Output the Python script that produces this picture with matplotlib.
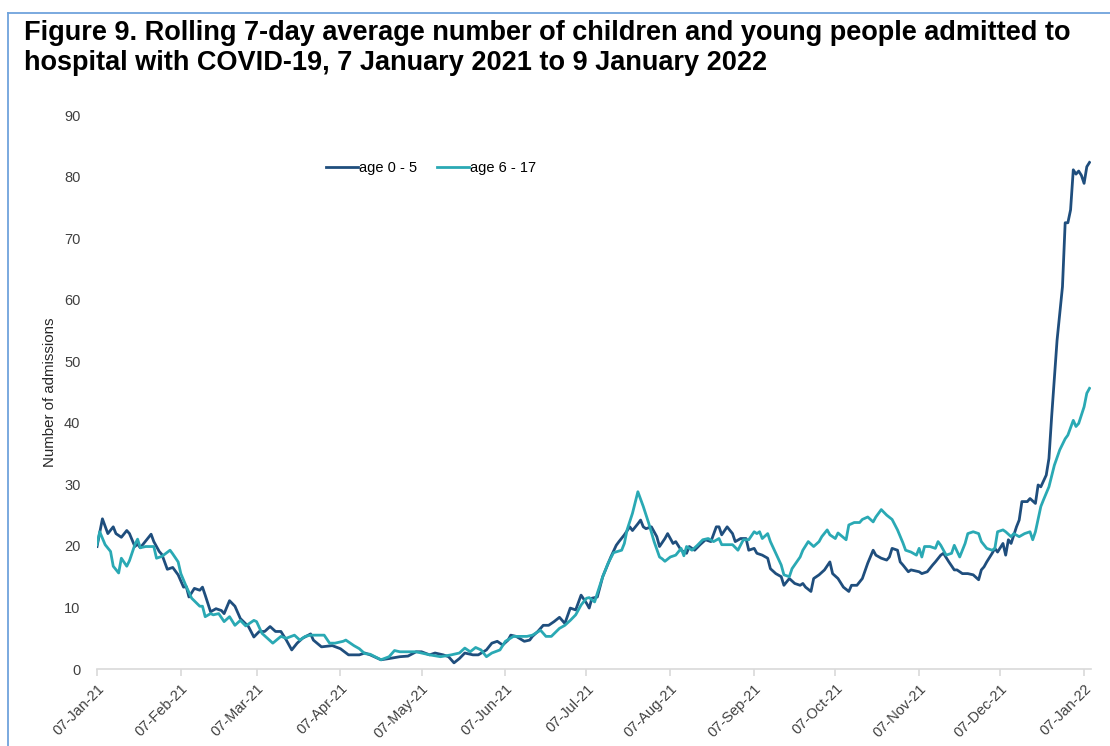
import numpy as np
import pandas as pd
import matplotlib
matplotlib.use("Agg")
import matplotlib.pyplot as plt
import matplotlib.dates as mdates
from matplotlib.lines import Line2D

plt.rcParams["font.family"] = ["Liberation Sans", "DejaVu Sans"]

start = pd.Timestamp("2021-01-07")

# days since 7 Jan 2021
days_05 = [0, 2, 4, 6, 7, 9, 11, 12, 14, 15, 16, 20, 21, 23, 24, 26, 28, 30, 32, 33,
           34, 36, 38, 39, 40, 42, 44, 46, 47, 49, 51, 53, 56, 58, 60, 62, 64, 66, 68, 70,
           72, 74, 76, 79, 80, 83, 87, 90, 93, 97, 99, 101, 105, 108, 112, 115, 118, 120, 123, 125,
           128, 130, 132, 134, 136, 139, 141, 144, 146, 148, 150, 152, 153, 155, 158, 160, 161, 163, 165, 167,
           169, 171, 173, 175, 177, 179, 181, 182, 183, 185, 187, 190, 192, 193, 195, 197, 198, 200, 201, 202,
           203, 205, 207, 208, 210, 211, 213, 214, 216, 218, 219, 221, 223, 225, 227, 229, 230, 231, 233, 235,
           236, 238, 240, 241, 243, 244, 246, 248, 249, 251, 253, 254, 256, 258, 260, 261, 262, 264, 265, 267,
           269, 271, 272, 274, 276, 278, 279, 281, 283, 285, 287, 288, 290, 292, 293, 294, 296, 297, 298, 300,
           301, 304, 305, 307, 309, 310, 312, 313, 315, 317, 318, 320, 322, 324, 326, 327, 328, 329, 331, 332,
           333, 335, 336, 337, 338, 340, 341, 342, 344, 345, 347, 348, 349, 351, 352, 353, 355, 357, 358, 359,
           360, 361, 362, 363, 364, 365, 366, 367]
age_05 = [19.9, 24.4, 22.0, 23.1, 22.0, 21.4, 22.5, 22.0, 19.9, 20.3, 19.7, 21.9, 20.7, 19.1, 18.6, 16.2, 16.5, 15.3, 13.3, 13.4,
          11.7, 13.1, 12.8, 13.3, 12.0, 9.3, 9.8, 9.5, 9.0, 11.1, 10.2, 8.2, 6.9, 5.2, 6.1, 6.1, 6.9, 6.1, 6.1, 4.7,
          3.1, 4.2, 5.0, 5.7, 4.7, 3.6, 3.8, 3.3, 2.3, 2.3, 2.6, 2.3, 1.5, 1.7, 2.0, 2.1, 2.8, 2.8, 2.3, 2.6,
          2.3, 2.0, 1.0, 1.7, 2.6, 2.3, 2.3, 3.1, 4.2, 4.5, 3.9, 4.7, 5.5, 5.3, 4.5, 4.7, 5.3, 6.1, 7.1, 7.1,
          7.7, 8.4, 7.4, 9.9, 9.6, 12.0, 10.7, 9.9, 11.5, 11.7, 15.0, 18.2, 20.1, 20.7, 21.8, 23.1, 22.5, 23.6, 24.2, 23.1,
          22.8, 23.1, 21.5, 19.9, 21.2, 22.0, 20.4, 20.7, 19.3, 18.8, 19.9, 19.3, 20.2, 21.0, 20.7, 23.1, 23.1, 21.8, 23.1, 22.0,
          20.7, 21.2, 21.2, 19.3, 19.6, 18.8, 18.5, 18.0, 16.3, 15.5, 15.0, 13.6, 14.7, 13.9, 13.6, 13.9, 13.3, 12.6, 14.7, 15.3,
          16.1, 17.4, 15.5, 14.7, 13.3, 12.6, 13.6, 13.6, 14.7, 17.2, 19.3, 18.5, 18.0, 17.7, 18.2, 19.6, 19.3, 17.4, 16.9, 15.8,
          16.1, 15.8, 15.5, 15.8, 16.9, 17.4, 18.5, 18.8, 17.4, 16.1, 16.1, 15.5, 15.5, 15.3, 14.5, 16.1, 16.6, 17.4, 18.8, 19.6,
          19.0, 20.4, 18.5, 21.0, 20.4, 23.1, 24.2, 27.2, 27.2, 27.7, 26.9, 29.9, 29.6, 31.5, 34.2, 41.0, 53.4, 62.1, 72.5, 72.5,
          74.6, 81.1, 80.4, 80.9, 80.2, 78.9, 81.6, 82.3]

days_617 = [0, 1, 3, 5, 6, 8, 9, 11, 12, 14, 15, 16, 18, 21, 22, 24, 27, 28, 30, 31,
            33, 35, 38, 39, 40, 42, 43, 45, 47, 49, 51, 53, 55, 58, 59, 61, 63, 65, 68, 70,
            73, 75, 77, 79, 82, 84, 86, 88, 91, 92, 95, 97, 99, 101, 105, 108, 110, 112, 116, 118,
            120, 123, 127, 131, 134, 136, 138, 140, 142, 144, 146, 149, 151, 154, 156, 159, 161, 164, 166, 168,
            171, 173, 175, 177, 179, 181, 182, 184, 185, 187, 189, 191, 194, 195, 196, 198, 200, 202, 204, 206,
            208, 209, 210, 212, 214, 216, 217, 218, 220, 222, 224, 226, 228, 230, 231, 234, 235, 237, 239, 241,
            243, 244, 245, 246, 248, 249, 251, 253, 254, 256, 257, 260, 261, 263, 265, 267, 268, 270, 271, 273,
            274, 277, 278, 280, 282, 283, 285, 287, 288, 290, 292, 294, 296, 298, 299, 301, 303, 304, 305, 306,
            308, 310, 311, 312, 314, 316, 317, 319, 321, 322, 324, 326, 327, 329, 331, 332, 333, 335, 336, 338,
            339, 341, 343, 345, 346, 347, 349, 350, 352, 354, 356, 358, 359, 361, 362, 363, 365, 366, 367]
age_617 = [20.2, 22.3, 20.2, 19.1, 16.7, 15.6, 18.0, 16.7, 17.6, 20.2, 21.1, 19.7, 19.9, 19.9, 18.0, 18.3, 19.3, 18.7, 17.4, 15.5,
           13.4, 11.5, 10.2, 10.2, 8.5, 9.0, 8.8, 9.0, 7.7, 8.5, 7.1, 7.9, 7.0, 7.9, 7.7, 5.8, 5.0, 4.2, 5.3, 5.0,
           5.5, 4.7, 5.3, 5.5, 5.5, 5.5, 4.2, 4.2, 4.5, 4.7, 3.8, 3.3, 2.5, 2.4, 1.5, 2.0, 3.0, 2.8, 2.8, 2.8,
           2.6, 2.3, 2.0, 2.3, 2.6, 3.4, 2.8, 3.5, 3.1, 2.0, 2.6, 3.1, 4.5, 5.3, 5.3, 5.3, 5.5, 6.3, 5.3, 5.3,
           6.6, 7.1, 7.9, 8.8, 10.4, 11.5, 11.6, 10.9, 12.3, 15.0, 17.2, 18.9, 19.3, 20.4, 22.6, 25.3, 28.8, 26.4, 23.7, 20.7,
           18.2, 17.9, 17.5, 18.2, 18.5, 19.6, 18.4, 19.9, 19.3, 20.1, 21.0, 21.2, 20.7, 21.2, 20.2, 20.2, 20.2, 19.3, 21.0, 21.0,
           22.3, 22.0, 22.3, 21.2, 22.0, 20.7, 18.8, 16.9, 15.3, 15.0, 16.3, 18.2, 19.3, 20.7, 19.9, 20.7, 21.5, 22.6, 21.8, 21.2,
           22.1, 21.0, 23.4, 23.8, 23.8, 24.3, 24.7, 23.9, 24.7, 25.9, 25.0, 24.3, 22.6, 20.5, 19.3, 19.0, 18.5, 19.6, 18.2, 19.9,
           19.9, 19.6, 20.7, 20.1, 18.5, 18.8, 20.1, 18.2, 20.4, 22.0, 22.3, 22.0, 20.7, 19.6, 19.3, 19.6, 22.3, 22.6, 22.3, 21.5,
           22.0, 21.5, 22.0, 22.3, 21.0, 22.3, 26.4, 27.5, 29.6, 33.1, 35.6, 37.4, 38.0, 40.4, 39.4, 39.9, 42.6, 44.8, 45.6]

dates_05 = start + pd.to_timedelta(days_05, unit="D")
dates_617 = start + pd.to_timedelta(days_617, unit="D")

dark = "#1f4e7d"
teal = "#2aa9b4"

fig = plt.figure(figsize=(11.10, 7.46), dpi=100)
ax = fig.add_axes([0.0874, 0.1032, 0.8956, 0.7426])

ax.plot(dates_05, age_05, color=dark, lw=2.0, label="age 0 - 5")
ax.plot(dates_617, age_617, color=teal, lw=2.0, label="age 6 - 17")

ax.set_ylim(0, 90)
ax.set_yticks(range(0, 91, 10))
ax.set_xlim(start, start + pd.Timedelta(days=367.6))
ax.xaxis.set_major_locator(mdates.MonthLocator(bymonthday=7))
ax.xaxis.set_major_formatter(mdates.DateFormatter("%d-%b-%y"))

for s in ["top", "right", "left"]:
    ax.spines[s].set_visible(False)
ax.spines["bottom"].set_color("#d9d9d9")
ax.spines["bottom"].set_linewidth(1.2)
ax.tick_params(axis="y", length=0, pad=12, labelsize=10.5, labelcolor="#404040")
ax.tick_params(axis="x", length=5, color="#d9d9d9", width=1.2, pad=4, labelsize=10.5, labelcolor="#404040")
plt.setp(ax.get_xticklabels(), rotation=45, ha="right", rotation_mode="anchor")

ax.set_ylabel("Number of admissions", fontsize=10.8, color="#262626", labelpad=5)

ax.legend(loc="center", bbox_to_anchor=(0.336, 0.904), ncol=2, frameon=False, fontsize=10.5,
          handlelength=2.2, handletextpad=0.05, columnspacing=1.4)

fig.text(0.022, 0.973, "Figure 9. Rolling 7-day average number of children and young people admitted to\n"
         "hospital with COVID-19, 7 January 2021 to 9 January 2022",
         fontsize=19.5, fontweight="bold", va="top", ha="left", linespacing=1.2)

# thin blue frame on the left and top
fig.add_artist(Line2D([8 / 1110, 8 / 1110], [0, 1 - 13 / 746], color="#6fa3dc", lw=1.3))
fig.add_artist(Line2D([8 / 1110, 1], [1 - 13 / 746, 1 - 13 / 746], color="#6fa3dc", lw=1.3))

fig.savefig("out.png", dpi=100)
